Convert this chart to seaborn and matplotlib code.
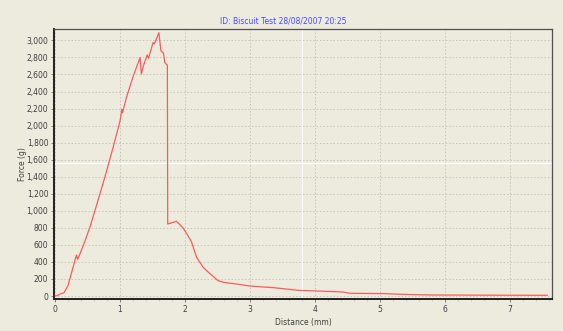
import seaborn as sns
import matplotlib.pyplot as plt
import matplotlib.ticker as mticker
import pandas as pd

# force curve
distance = [0.0, 0.035, 0.08, 0.14, 0.2, 0.33, 0.35, 0.45, 0.54, 0.65, 0.77, 0.9,
            1.0, 1.03, 1.04, 1.1, 1.2, 1.31, 1.33, 1.36, 1.42, 1.44, 1.51, 1.53,
            1.6, 1.63, 1.67, 1.69, 1.73, 1.735, 1.8, 1.87, 1.97, 2.04, 2.1, 2.18,
            2.28, 2.38, 2.51, 2.6, 2.79, 3.0, 3.36, 3.77, 4.0, 4.28, 4.43, 4.54,
            5.05, 5.5, 5.82, 6.5, 7.0, 7.58]
force = [0, 5, 23, 39, 120, 481, 430, 620, 813, 1090, 1400, 1760,
         2050, 2190, 2150, 2330, 2570, 2800, 2605, 2700, 2830, 2790, 2975, 2960,
         3090, 2880, 2850, 2740, 2710, 845, 860, 877, 800, 716, 638, 454,
         337, 266, 180, 160, 141, 117, 98, 65, 60, 52, 47, 32,
         28, 16, 12, 10, 9, 8]

title = "ID: Biscuit Test 28/08/2007 20:25"
bg = "#ECEBDD"

df = pd.DataFrame({"Distance (mm)": distance, "Force (g)": force})

sns.set_style("ticks")
plt.rcParams["font.family"] = ["DejaVu Sans"]

fig = plt.figure(figsize=(5.63, 3.31), dpi=100, facecolor=bg)
ax = fig.add_axes([0.0959, 0.0967, 0.8846, 0.8157], facecolor=bg)

# artifacts in the screenshot
ax.axhline(1560, color="white", lw=1, zorder=1)
ax.axvline(3.8, color="white", lw=0.8, alpha=0.8, zorder=1)

sns.lineplot(data=df, x="Distance (mm)", y="Force (g)", ax=ax,
             color="#FF5A5A", lw=0.9, zorder=3)

ax.set_xlim(-0.015, 7.65)
ax.set_ylim(-35, 3134)
ax.xaxis.set_major_locator(mticker.MultipleLocator(1))
ax.xaxis.set_minor_locator(mticker.MultipleLocator(0.2))
ax.yaxis.set_major_locator(mticker.MultipleLocator(200))
ax.yaxis.set_minor_locator(mticker.MultipleLocator(50))
ax.yaxis.set_major_formatter(mticker.StrMethodFormatter("{x:,.0f}"))

ax.grid(True, which="major", color="#C4C4BA", lw=0.7, ls=(0, (1.5, 2)), zorder=0)
ax.tick_params(which="major", labelsize=5.5, length=2, width=0.6,
               colors="#707070", labelcolor="#404040", pad=2)
ax.tick_params(which="minor", length=1.2, width=0.4, colors="#B0B0A8")

ax.set_xlabel("Distance (mm)", fontsize=5.5, color="#404040", labelpad=3)
ax.set_ylabel("Force (g)", fontsize=5.5, color="#404040")
ax.yaxis.set_label_coords(-0.054, 0.5)

for s in ["left", "bottom"]:
    ax.spines[s].set_linewidth(1.4)
    ax.spines[s].set_color("#202020")
for s in ["top", "right"]:
    ax.spines[s].set_linewidth(0.9)
    ax.spines[s].set_color("#505050")

fig.text(283 / 563, 1 - 20.5 / 331, title, fontsize=5.5, color="#4B4BFF",
         ha="center", va="center")

fig.savefig("out.png", dpi=100, facecolor=bg)
